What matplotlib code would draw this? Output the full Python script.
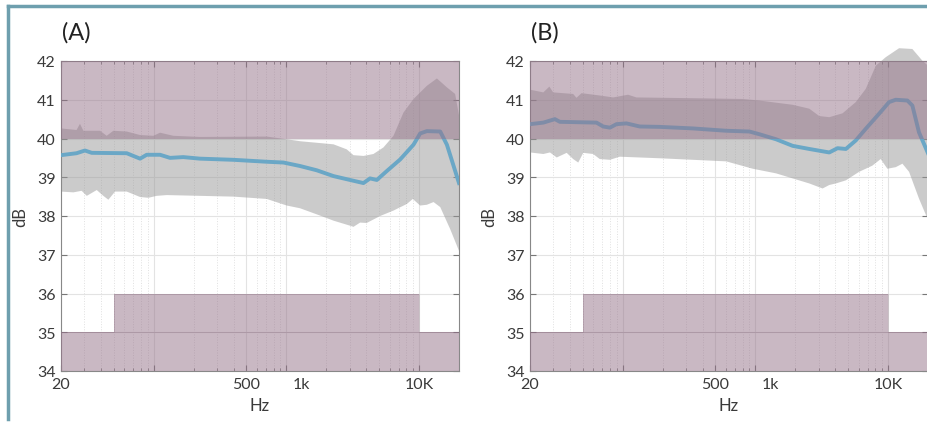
#!/usr/bin/env python3
# Two panels: mean level (blue) with spread (gray) against frequency,
# limit bands shaded in mauve.

import numpy as np
import matplotlib
matplotlib.use("Agg")
import matplotlib.pyplot as plt
from matplotlib.lines import Line2D
from matplotlib.ticker import FixedLocator, NullFormatter
import matplotlib.transforms as mtransforms

plt.rcParams['font.family'] = ['Lato', 'DejaVu Sans']

# ---- panel A ----
f_mean_a = [20, 26.2, 30.3, 34.1, 62.6, 70.2, 78.9, 88.5, 111.6, 132.7, 167, 223, 399, 711,
            950, 1267, 1693, 2264, 3018, 3808, 4270, 4805, 5713, 7207, 9077, 10190, 11450,
            14440, 16210, 20000]
mean_a = [39.57, 39.62, 39.69, 39.63, 39.62, 39.55, 39.48, 39.58, 39.58, 39.5, 39.52, 39.48,
          39.45, 39.4, 39.38, 39.29, 39.18, 39.03, 38.93, 38.85, 38.97, 38.93, 39.16, 39.46,
          39.84, 40.13, 40.19, 40.18, 39.84, 38.85]

f_up_a = [20, 26.2, 27.8, 29.5, 39.4, 44.2, 49.6, 62.6, 78.9, 99.4, 111.6, 140.7, 223, 711,
          1007, 1267, 1693, 2264, 2851, 3203, 3808, 4528, 5392, 6414, 7628, 9077, 11450,
          13630, 16210, 18700, 20000]
up_a = [40.26, 40.22, 40.38, 40.2, 40.2, 40.07, 40.2, 40.18, 40.09, 40.07, 40.15, 40.07,
        40.04, 40.05, 39.98, 39.93, 39.89, 39.85, 39.72, 39.57, 39.55, 39.6, 39.77, 40.07,
        40.67, 41.02, 41.36, 41.55, 41.32, 41.15, 40.6]

f_lo_a = [20, 24.8, 28.6, 31.3, 37.2, 41.7, 45.5, 51.1, 62.6, 78.9, 91.2, 105.2, 125.3, 223,
          399, 711, 1007, 1267, 1797, 2264, 3018, 3203, 3593, 4033, 5089, 6414, 8085, 8970,
          10190, 11450, 12860, 14440, 17170, 20000]
lo_a = [38.63, 38.61, 38.65, 38.52, 38.67, 38.52, 38.42, 38.63, 38.63, 38.49, 38.47, 38.52,
        38.54, 38.52, 38.5, 38.44, 38.27, 38.2, 38.01, 37.88, 37.75, 37.72, 37.83, 37.82,
        38.0, 38.14, 38.31, 38.44, 38.27, 38.29, 38.36, 38.23, 37.66, 37.1]

# ---- panel B ----
f_mean_b = [20, 25.2, 30.8, 33.6, 63.4, 71.2, 80, 89.7, 106.6, 134.3, 189.8, 338, 602, 902,
            1072, 1432, 1910, 2548, 3605, 4161, 4808, 5712, 6787, 8564, 10180, 11420, 13990,
            15250, 17100, 20000]
mean_b = [40.37, 40.41, 40.5, 40.43, 40.41, 40.31, 40.28, 40.37, 40.39, 40.31, 40.3, 40.26,
          40.2, 40.18, 40.11, 39.98, 39.81, 39.73, 39.64, 39.75, 39.73, 39.95, 40.25, 40.64,
          40.94, 41.0, 40.98, 40.85, 40.16, 39.62]

f_up_b = [20, 25.2, 28, 29.9, 42.3, 44.8, 48.9, 67.1, 84.7, 109.7, 126.8, 338, 803, 1072,
          1910, 2548, 3028, 3605, 4538, 5712, 6787, 8090, 9620, 12110, 15250, 18120, 20000]
up_b = [41.26, 41.19, 41.34, 41.19, 41.15, 41.05, 41.17, 41.11, 41.06, 41.13, 41.06, 41.04,
        41.02, 40.98, 40.87, 40.77, 40.58, 40.55, 40.65, 40.94, 41.28, 41.88, 42.1, 42.33,
        42.31, 42.01, 41.88]

f_lo_b = [20, 25.2, 28.3, 31.8, 37.8, 42.3, 46.2, 50.4, 59.9, 67.1, 80, 95, 189.8, 602, 955,
          1432, 1910, 2548, 3210, 3605, 4044, 4808, 6050, 7620, 8800, 9880, 11420, 12830,
          14400, 17100, 20000]
lo_b = [39.64, 39.6, 39.64, 39.51, 39.63, 39.47, 39.38, 39.63, 39.6, 39.47, 39.45, 39.53,
        39.49, 39.41, 39.22, 39.1, 38.97, 38.84, 38.71, 38.8, 38.84, 38.92, 39.14, 39.3,
        39.47, 39.22, 39.26, 39.35, 39.14, 38.45, 37.9]

# limit bands: upper band 40..42, lower mask 34..35 outside 50 Hz-10 kHz, 34..36 inside
band_top = (40, 42)
mask_f = [20, 50, 50, 10000, 10000, 20000]
mask_lvl = [35, 35, 36, 36, 35, 35]

panels = [("(A)", f_mean_a, mean_a, f_up_a, up_a, f_lo_a, lo_a),
          ("(B)", f_mean_b, mean_b, f_up_b, up_b, f_lo_b, lo_b)]

W, H = 927, 427
fig = plt.figure(figsize=(W / 100, H / 100), dpi=100)

txt = '#3a3a3a'
mauve = '#957289'
line_col = '#6aa7c6'

for i, (tag, fm, m, fu, u, fl, l) in enumerate(panels):
    left = 61 if i == 0 else 530
    ax = fig.add_axes([left / W, (H - 372) / H, 398 / W, 310 / H])
    ax.set_xscale('log')
    ax.set_xlim(20, 20000)
    ax.set_ylim(34, 42)

    # spread
    px = list(fu) + list(fl)[::-1]
    py = list(u) + list(l)[::-1]
    ax.fill(px, py, color='#999999', alpha=0.5, lw=0, zorder=2, clip_on=False)
    # mean
    ax.plot(fm, m, color=line_col, lw=2.8, zorder=3, solid_joinstyle='round')
    # limit bands on top, translucent
    ax.fill_between([20, 20000], band_top[0], band_top[1], color=mauve, alpha=0.5,
                    lw=0, zorder=4)
    ax.fill_between(mask_f, 34, mask_lvl, color=mauve, alpha=0.5, lw=0, zorder=4)
    ax.plot(mask_f, mask_lvl, color='#8a7080', lw=0.5, alpha=0.4, zorder=4)
    ax.axhline(35, color='#8a7080', lw=0.5, alpha=0.4, zorder=4)

    ax.xaxis.set_major_locator(FixedLocator([20, 100, 500, 1000, 10000]))
    ax.set_xticklabels(['20', '', '500', '1k', '10K'])
    ax.xaxis.set_minor_locator(FixedLocator(
        [k * 10 ** d for d in range(1, 5) for k in range(2, 10) if 20 < k * 10 ** d < 20000]))
    ax.xaxis.set_minor_formatter(NullFormatter())
    ax.set_yticks(range(34, 43))

    ax.grid(True, which='major', color='#e3e3e3', lw=0.8, zorder=0)
    ax.grid(True, which='minor', axis='x', color='#e0e0e0', lw=0.7, ls=':', zorder=0)
    ax.set_axisbelow(True)

    ax.tick_params(which='both', direction='in', top=True, right=True, colors='#777777',
                   labelcolor=txt, labelsize=11.5, pad=4)
    ax.tick_params(which='major', length=4)
    ax.tick_params(which='minor', length=2.5)
    for s in ax.spines.values():
        s.set_color('#888888')
        s.set_linewidth(0.8)

    # the "1k" label sits a bit to the right in the original
    lab = ax.get_xticklabels()[3]
    lab.set_transform(lab.get_transform() + mtransforms.ScaledTranslation(0.15, 0, fig.dpi_scale_trans))

    ax.set_xlabel('Hz', color=txt, fontsize=12, labelpad=5)
    ax.set_ylabel('dB', color=txt, fontsize=12, labelpad=6)
    fig.text((left + 1) / W, 1 - 33 / H, tag, fontsize=17, color='#222222',
             ha='left', va='center')

# teal frame round the figure
frame = '#6e9fae'
fig.add_artist(Line2D([8 / W, 1], [1 - 7 / H, 1 - 7 / H], color=frame, lw=2.5))
fig.add_artist(Line2D([8 / W, 8 / W], [1 - 7 / H, 1 - 420 / H], color=frame, lw=2.5))

fig.savefig('out.png', dpi=100)
